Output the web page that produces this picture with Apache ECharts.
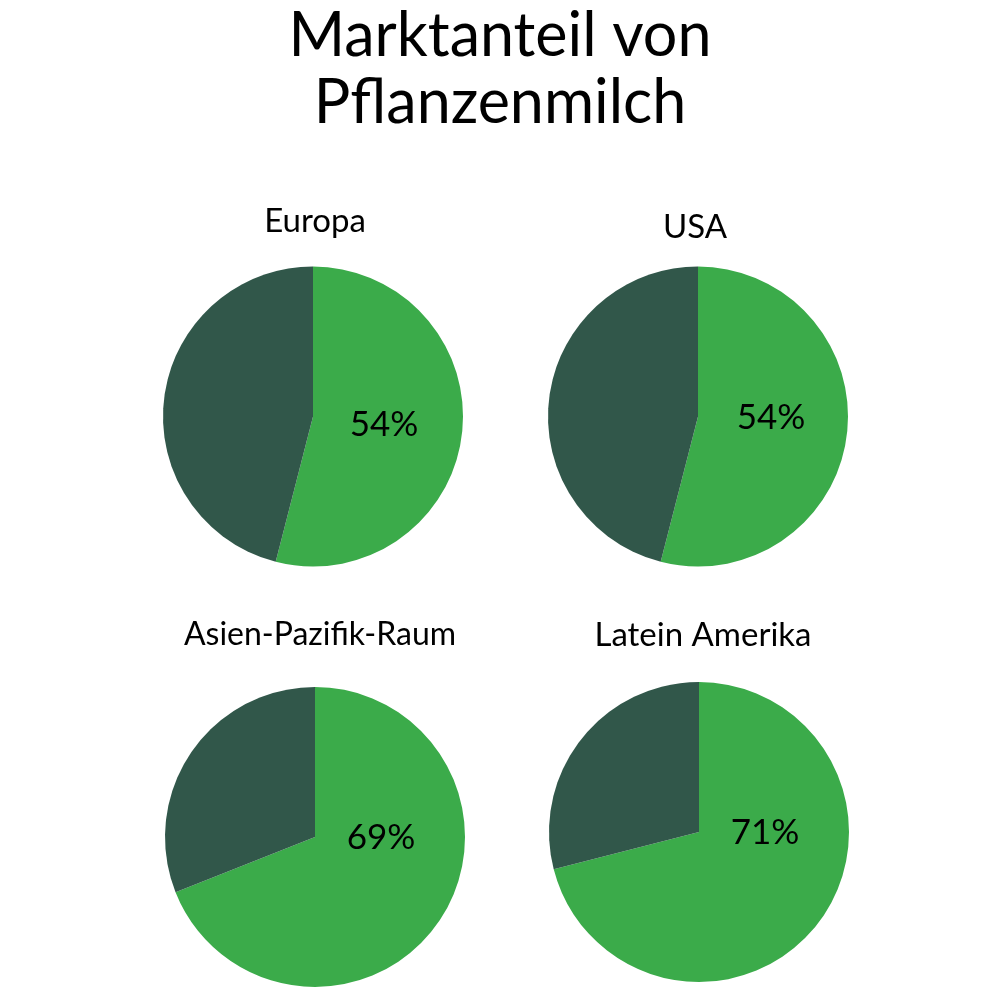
<!DOCTYPE html>
<html>
<head>
<meta charset="utf-8">
<title>Marktanteil von Pflanzenmilch</title>
<script src="https://cdn.jsdelivr.net/npm/echarts@6/dist/echarts.min.js"></script>
<style>
  html, body { margin: 0; padding: 0; background: #fff; }
  #chart { width: 1000px; height: 987px; }
</style>
</head>
<body>
<div id="chart"></div>
<script>
const regions = ['Europa', 'USA', 'Asien-Pazifik-Raum', 'Latein Amerika'];
const shareValues = [54, 54, 69, 71];
const centers = [['31.3%', '42.2%'], ['69.8%', '42.2%'], ['31.5%', '84.8%'], ['69.9%', '84.3%']];
const titlePos = [[310, 200], [690, 206], [315, 614], [698, 614]];

const font = 'Lato, "Noto Sans", sans-serif';
const lightGreen = '#3bab4a';
const darkGreen = '#31574a';

const getOption = () => {
  const titles = [{
    text: 'Marktanteil von\nPflanzenmilch',
    left: 'center',
    top: -2,
    textStyle: { fontFamily: font, fontSize: 61, fontWeight: 'normal', color: '#000', lineHeight: 67 }
  }];
  regions.forEach((r, i) => {
    titles.push({
      text: r,
      left: titlePos[i][0],
      top: titlePos[i][1],
      textAlign: 'center',
      textStyle: { fontFamily: font, fontSize: i === 2 ? 32 : 33, fontWeight: 'normal', color: '#000' }
    });
  });

  const series = regions.map((r, i) => ({
    name: r,
    type: 'pie',
    center: centers[i],
    radius: 150,
    startAngle: 90,
    clockwise: true,
    animation: false,
    silent: true,
    labelLine: { show: false },
    itemStyle: { borderWidth: 0 },
    data: [
      {
        value: shareValues[i],
        itemStyle: { color: lightGreen },
        label: {
          show: true,
          position: 'center',
          offset: [i === 0 ? 71 : (i === 1 ? 73 : 66), i === 0 ? 8 : 1],
          formatter: '{c}%',
          fontFamily: font,
          fontSize: 35,
          color: '#000'
        }
      },
      {
        value: 100 - shareValues[i],
        itemStyle: { color: darkGreen },
        label: { show: false }
      }
    ]
  }));

  return { backgroundColor: '#fff', title: titles, series: series };
};

window.addEventListener('load', () => {
  const chart = echarts.init(document.getElementById('chart'), null, { renderer: 'canvas' });
  chart.setOption(getOption());
});
</script>
</body>
</html>
